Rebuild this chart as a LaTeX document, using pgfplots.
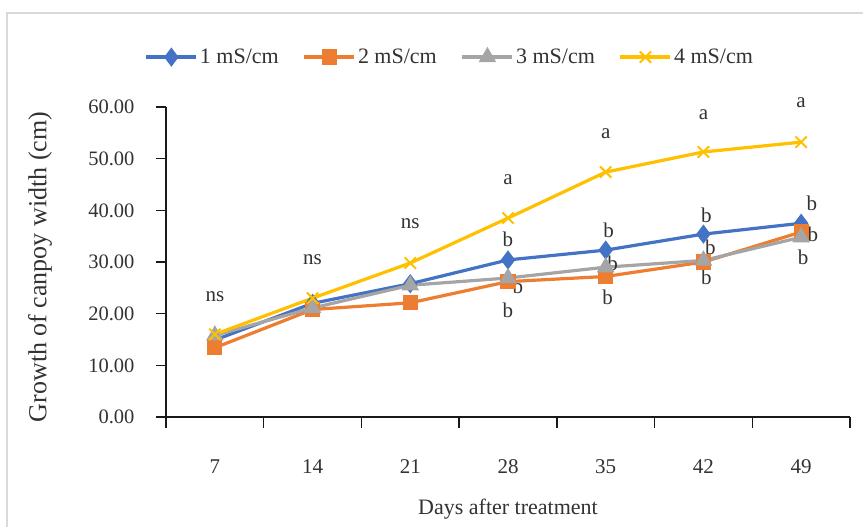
\documentclass[border=0pt]{standalone}
\usepackage{fontspec}
\setmainfont{Liberation Serif}
\usepackage{pgfplots}
\pgfplotsset{compat=1.18}
\definecolor{c1}{RGB}{68,114,196}
\definecolor{c2}{RGB}{237,125,49}
\definecolor{c3}{RGB}{165,165,165}
\definecolor{c4}{RGB}{255,192,0}
\definecolor{tickgray}{RGB}{50,50,50}
\begin{document}
\begin{tikzpicture}[x=1pt,y=1pt]
\useasboundingbox (-166,-110) rectangle (697,417);
\draw[draw=black!15, line width=1.2pt] (-159,-130) rectangle (720,404);
\begin{axis}[
  at={(0,0)}, anchor=south west,
  scale only axis, width=684pt, height=310pt,
  xmin=-0.5, xmax=6.5, ymin=0, ymax=60,
  axis lines*=left,
  axis line style={line width=1.4pt, black!90},
  xtick={0,...,6}, xticklabels={7,14,21,28,35,42,49},
  major x tick style={draw=none},
  minor xtick={-0.5,0.5,...,6.5},
  minor x tick style={line width=1.4pt, black!90},
  minor tick length=11pt,
  ytick={0,10,...,60},
  major y tick style={line width=1.4pt, black!90},
  major tick length=10pt,
  tick align=outside,
  xticklabel style={font=\fontsize{21}{21}\selectfont, text=tickgray, yshift=-29pt},
  yticklabel style={font=\fontsize{20.5}{20.5}\selectfont, text=tickgray, xshift=-18pt},
  /pgf/number format/.cd, fixed, fixed zerofill, precision=2, assume math mode=true,
  /pgfplots/.cd,
  xlabel={Days after treatment},
  ylabel={Growth of canpoy width (cm)},
  xlabel style={font=\fontsize{22}{22}\selectfont, text=tickgray, at={(axis description cs:0.5,-0.297)}, anchor=center},
  ylabel style={font=\fontsize{26}{26}\selectfont, text=tickgray, at={(axis description cs:-0.184,0.484)}, anchor=center},
  legend columns=4,
  legend style={at={(axis description cs:0.415,1.161)}, anchor=center, draw=none, fill=none,
    font=\fontsize{22}{22}\selectfont, text=tickgray,
    /tikz/every even column/.append style={column sep=22pt}},
  legend image code/.code={\draw[#1] (0,0) -- (50pt,0); \draw[#1] plot coordinates {(25pt,0)};},
  every axis plot/.append style={line width=3.2pt},
  clip=false,
]
\addplot[color=c1, mark=diamond*, mark size=7pt, mark options={solid}] coordinates {
 (0,14.9) (1,22.0) (2,25.8) (3,30.4) (4,32.3) (5,35.4) (6,37.5)};
\addlegendentry{1 mS/cm}
\addplot[color=c2, mark=square*, mark size=6pt] coordinates {
 (0,13.4) (1,20.8) (2,22.1) (3,26.2) (4,27.2) (5,30.0) (6,35.8)};
\addlegendentry{2 mS/cm}
\addplot[color=c3, mark=triangle*, mark size=7pt] coordinates {
 (0,15.8) (1,21.1) (2,25.5) (3,26.9) (4,29.0) (5,30.3) (6,34.8)};
\addlegendentry{3 mS/cm}
\addplot[color=c4, mark=x, mark size=8pt, mark options={line width=2pt}] coordinates {
 (0,16.0) (1,23.0) (2,29.8) (3,38.5) (4,47.4) (5,51.3) (6,53.2)};
\addlegendentry{4 mS/cm}
\begin{scope}[every node/.style={font=\fontsize{21}{21}\selectfont, text=tickgray, anchor=center}]
\node at (axis cs:0,23.2) {ns};
\node at (axis cs:1,30.4) {ns};
\node at (axis cs:2,37.4) {ns};
\node at (axis cs:3,45.9) {a};
\node at (axis cs:4,54.8) {a};
\node at (axis cs:5,58.6) {a};
\node at (axis cs:6,60.8) {a};
\node at (axis cs:3,34.3) {b};
\node at (axis cs:3.10,25.2) {b};
\node at (axis cs:3.0,20.7) {b};
\node at (axis cs:4.03,36.2) {b};
\node at (axis cs:4.07,29.8) {b};
\node at (axis cs:4.02,23.2) {b};
\node at (axis cs:5.03,39.1) {b};
\node at (axis cs:5.07,32.9) {b};
\node at (axis cs:5.03,27.1) {b};
\node at (axis cs:6.11,41.4) {b};
\node at (axis cs:6.12,35.4) {b};
\node at (axis cs:6.02,31.0) {b};
\end{scope}
\end{axis}
\end{tikzpicture}
\end{document}
